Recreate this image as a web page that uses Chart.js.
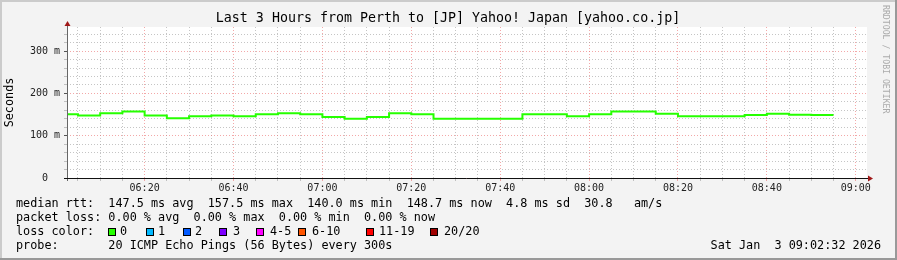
<!DOCTYPE html>
<html>
<head>
<meta charset="utf-8">
<script src="https://cdn.jsdelivr.net/npm/chart.js@4.4.1/dist/chart.umd.min.js"></script>
<style>
    html, body { margin: 0; padding: 0; background: #f3f3f3; }
    canvas { display: block; }
</style>
</head>
<body>
<canvas id="myChart" width="897" height="260"></canvas>
<script>
// Dados (mediana do rtt em ms, um valor a cada 5 min a partir de 06:00)
var rttStart = '06:00:00';
var rttStepMin = 5;
var rttMedian = [151, 148, 153, 157.5, 148, 141, 146, 148, 146, 151, 153, 151,
                 144, 140, 144, 153, 151, 140, 140, 140, 140, 151, 151, 146,
                 151, 157.5, 157.5, 152, 146, 146, 146, 149, 152, 149.5, 148.7];

var rangeStart = '06:02:32';
var rangeEnd = '09:02:32';
var yMax = 357;
var yTicks = [0, 20, 40, 60, 80, 100, 120, 140, 160, 180, 200, 220, 240, 260, 280, 300, 320, 340];

var titulo = 'Last 3 Hours from Perth to [JP] Yahoo! Japan [yahoo.co.jp]';
var linhaRtt = 'median rtt:  147.5 ms avg  157.5 ms max  140.0 ms min  148.7 ms now  4.8 ms sd  30.8   am/s';
var linhaLoss = 'packet loss: 0.00 % avg  0.00 % max  0.00 % min  0.00 % now';
var linhaProbe = 'probe:       20 ICMP Echo Pings (56 Bytes) every 300s';
var dataHora = 'Sat Jan  3 09:02:32 2026';

var lossLabels = ['0', '1', '2', '3', '4-5', '6-10', '11-19', '20/20'];
var lossColors = ['#26ff00', '#00b8ff', '#0059ff', '#7e00ff', '#ff00ff', '#ff5500', '#ff0000', '#a00000'];
// posições das caixinhas da legenda (layout)
var lossBoxX = [108, 146, 183, 219, 256, 298, 366, 430];
var lossTextX = [120, 158, 195, 233, 270, 312, 379, 444];

function toSec(hms) {
    var p = hms.split(':');
    return parseInt(p[0]) * 3600 + parseInt(p[1]) * 60 + parseInt(p[2] || 0);
}
function hhmm(s) {
    var h = Math.floor(s / 3600), m = Math.floor((s % 3600) / 60);
    return String(h).padStart(2, '0') + ':' + String(m).padStart(2, '0');
}

var t0 = toSec(rttStart);
var pontos = rttMedian.map(function (v, i) { return { x: t0 + i * rttStepMin * 60, y: v }; });
pontos.push({ x: t0 + rttMedian.length * rttStepMin * 60, y: rttMedian[rttMedian.length - 1] });

var xMin = toSec(rangeStart), xMax = toSec(rangeEnd);
var xTicks = [];
for (var s = Math.ceil(xMin / 300) * 300; s <= xMax; s += 300) xTicks.push(s);

var corGrid = 'rgba(150,150,150,0.55)';
var corMgrid = 'rgba(235,110,110,0.6)';
var mono = '"DejaVu Sans Mono", monospace';

var fundo = {
    id: 'fundo',
    beforeDraw: function (chart) {
        var c = chart.ctx, a = chart.chartArea;
        c.save();
        c.fillStyle = '#f3f3f3';
        c.fillRect(0, 0, 897, 260);
        c.fillStyle = '#cbcbcb';
        c.fillRect(0, 0, 897, 2);
        c.fillRect(0, 0, 2, 260);
        c.fillStyle = '#999999';
        c.fillRect(0, 258, 897, 2);
        c.fillRect(895, 0, 2, 260);
        c.fillStyle = '#ffffff';
        c.fillRect(a.left, a.top, a.right - a.left, a.bottom - a.top);
        c.restore();
    },
    afterDraw: function (chart) {
        var c = chart.ctx, a = chart.chartArea;
        c.save();
        // eixos e setas
        c.lineWidth = 1;
        c.strokeStyle = '#666';
        c.beginPath(); c.moveTo(a.left + 0.5, 25); c.lineTo(a.left + 0.5, a.bottom + 3); c.stroke();
        c.strokeStyle = '#111';
        c.beginPath(); c.moveTo(a.left - 3, a.bottom + 0.5); c.lineTo(a.right + 2, a.bottom + 0.5); c.stroke();
        c.fillStyle = '#a01818';
        c.beginPath(); c.moveTo(a.left - 2.5, 26); c.lineTo(a.left + 3.5, 26); c.lineTo(a.left + 0.5, 21); c.closePath(); c.fill();
        c.beginPath(); c.moveTo(a.right + 1, a.bottom - 2.5); c.lineTo(a.right + 1, a.bottom + 3.5); c.lineTo(a.right + 6, a.bottom + 0.5); c.closePath(); c.fill();

        // título
        c.fillStyle = '#000';
        c.textBaseline = 'middle';
        c.textAlign = 'center';
        c.font = '13.3px ' + mono;
        c.fillText(titulo, 448, 19);

        // legenda
        c.textAlign = 'left';
        c.font = '11.8px ' + mono;
        c.fillText(linhaRtt, 16, 204);
        c.fillText(linhaLoss, 16, 218);
        c.fillText('loss color:', 16, 232);
        c.fillText(linhaProbe, 16, 246);
        for (var i = 0; i < lossLabels.length; i++) {
            c.fillStyle = '#000';
            c.fillRect(lossBoxX[i], 228, 8, 8);
            c.fillStyle = lossColors[i];
            c.fillRect(lossBoxX[i] + 1, 229, 6, 6);
            c.fillStyle = '#000';
            c.fillText(lossLabels[i], lossTextX[i], 232);
        }
        c.textAlign = 'right';
        c.fillText(dataHora, 881, 246);

        // Seconds
        c.save();
        c.translate(10, (a.top + a.bottom) / 2);
        c.rotate(-Math.PI / 2);
        c.textAlign = 'center';
        c.fillText('Seconds', 0, 0);
        c.restore();

        // marca d'água
        c.save();
        c.translate(885, 5);
        c.rotate(Math.PI / 2);
        c.textAlign = 'left';
        c.font = '8.2px ' + mono;
        c.fillStyle = '#aaaaaa';
        c.fillText('RRDTOOL / TOBI OETIKER', 0, 0);
        c.restore();
        c.restore();
    }
};

Chart.defaults.font.family = mono;
Chart.defaults.font.size = 10;
Chart.defaults.color = '#222';

const ctx = document.getElementById('myChart');
new Chart(ctx, {
    type: 'line',
    data: {
        datasets: [{
            label: 'median rtt',
            data: pontos,
            borderColor: '#26ff00',
            borderWidth: 2,
            pointRadius: 0,
            stepped: 'before',
            fill: false
        }]
    },
    options: {
        responsive: false,
        animation: false,
        devicePixelRatio: 1,
        layout: { padding: { left: 0, right: 30, top: 27, bottom: 62 } },
        plugins: { legend: { display: false }, tooltip: { enabled: false }, title: { display: false } },
        scales: {
            x: {
                type: 'linear',
                min: xMin,
                max: xMax,
                afterBuildTicks: function (scale) {
                    scale.ticks = xTicks.map(function (v) { return { value: v }; });
                },
                afterFit: function (scale) { scale.height = 20; },
                ticks: {
                    autoSkip: false,
                    maxRotation: 0,
                    padding: 1,
                    callback: function (v) { return v % 1200 === 0 ? hhmm(v) : ''; }
                },
                grid: {
                    color: function (c) { return c.tick && c.tick.value % 1200 === 0 ? corMgrid : corGrid; },
                    tickColor: function (c) { return c.tick && c.tick.value % 1200 === 0 ? corMgrid : corGrid; },
                    tickLength: 3
                },
                border: { display: false, dash: [1, 2] }
            },
            y: {
                min: 0,
                max: yMax,
                afterBuildTicks: function (scale) {
                    scale.ticks = yTicks.map(function (v) { return { value: v }; });
                },
                afterFit: function (scale) { scale.width = 67; },
                ticks: {
                    autoSkip: false,
                    padding: 4,
                    callback: function (v) {
                        if (v % 100 !== 0) return '';
                        return v === 0 ? '0  ' : v + ' m';
                    }
                },
                grid: {
                    color: function (c) { return c.tick && c.tick.value % 100 === 0 ? corMgrid : corGrid; },
                    tickColor: function (c) { return c.tick && c.tick.value % 100 === 0 ? '#555' : corGrid; },
                    tickLength: 3
                },
                border: { display: false, dash: [1, 2] }
            }
        }
    },
    plugins: [fundo]
});
</script>
</body>
</html>
